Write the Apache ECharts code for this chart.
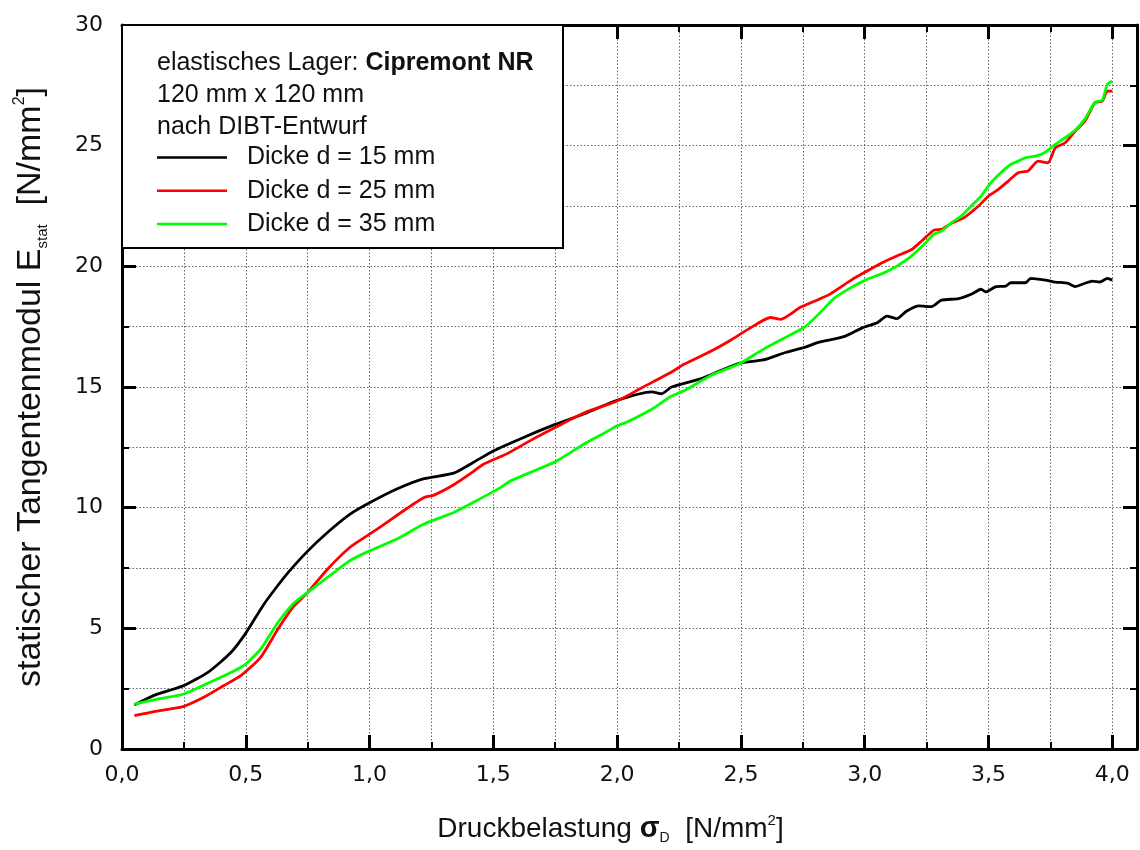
<!DOCTYPE html>
<html>
<head>
<meta charset="utf-8">
<script src="https://cdn.jsdelivr.net/npm/echarts@6/dist/echarts.min.js"></script>
<style>html,body{margin:0;padding:0;background:#fff}#c{width:1140px;height:850px}</style>
</head>
<body>
<div id="c"></div>
<script>
// ---- data ----
const seriesNames = ['Dicke d = 15 mm', 'Dicke d = 25 mm', 'Dicke d = 35 mm'];
const xTickLabels = ['0,0','0,5','1,0','1,5','2,0','2,5','3,0','3,5','4,0'];
const yTickLabels = ['0','5','10','15','20','25','30'];
const headerLines = ['elastisches Lager: ', 'Cipremont NR', '120 mm x 120 mm', 'nach DIBT-Entwurf'];

const x15 = [0.05,0.127,0.25,0.35,0.44,0.5,0.57,0.62,0.67,0.75,0.83,0.92,1.0,1.11,1.22,1.34,1.42,1.5,1.62,1.75,1.87,2.0,2.14,2.18,2.22,2.34,2.41,2.5,2.59,2.68,2.76,2.81,2.92,2.99,3.05,3.09,3.13,3.17,3.22,3.27,3.31,3.38,3.43,3.47,3.49,3.53,3.57,3.59,3.65,3.67,3.73,3.77,3.82,3.85,3.89,3.92,3.95,3.98,4.0];
const y15 = [1.82,2.21,2.63,3.2,4.0,4.8,5.95,6.65,7.3,8.2,8.97,9.72,10.2,10.77,11.2,11.43,11.88,12.35,12.9,13.45,13.9,14.45,14.8,14.72,15.0,15.35,15.65,16.0,16.12,16.43,16.65,16.84,17.1,17.45,17.66,17.94,17.83,18.15,18.36,18.33,18.6,18.66,18.84,19.05,18.94,19.16,19.18,19.32,19.32,19.5,19.43,19.35,19.3,19.16,19.3,19.39,19.35,19.5,19.43];

const x25 = [0.05,0.13,0.25,0.33,0.41,0.48,0.56,0.63,0.69,0.75,0.83,0.92,1.0,1.07,1.13,1.22,1.26,1.34,1.41,1.46,1.53,1.56,1.66,1.75,1.87,2.0,2.1,2.22,2.27,2.38,2.46,2.54,2.62,2.66,2.74,2.82,2.86,2.95,3.01,3.07,3.13,3.19,3.23,3.28,3.31,3.35,3.4,3.46,3.5,3.54,3.58,3.62,3.66,3.7,3.74,3.77,3.81,3.85,3.89,3.93,3.96,3.98,4.0];
const y25 = [1.38,1.55,1.77,2.14,2.62,3.04,3.8,4.97,5.87,6.49,7.45,8.35,8.9,9.39,9.82,10.42,10.52,10.95,11.43,11.8,12.12,12.26,12.84,13.32,13.94,14.42,14.97,15.62,15.94,16.49,16.95,17.46,17.88,17.8,18.3,18.66,18.85,19.46,19.81,20.15,20.43,20.7,21.05,21.5,21.53,21.78,22.01,22.5,22.91,23.19,23.53,23.88,23.95,24.36,24.29,24.91,25.12,25.6,26.02,26.78,26.85,27.26,27.26];

const x35 = [0.05,0.13,0.25,0.34,0.44,0.5,0.56,0.63,0.69,0.75,0.83,0.92,1.0,1.11,1.22,1.34,1.42,1.53,1.57,1.68,1.75,1.87,1.95,2.0,2.04,2.14,2.22,2.27,2.38,2.49,2.59,2.68,2.76,2.82,2.88,2.95,3.01,3.08,3.13,3.19,3.24,3.28,3.31,3.35,3.39,3.43,3.47,3.51,3.55,3.59,3.62,3.65,3.69,3.73,3.77,3.81,3.85,3.89,3.93,3.96,3.98,4.0];
const y35 = [1.86,2.04,2.28,2.69,3.17,3.52,4.14,5.24,6.0,6.49,7.11,7.8,8.21,8.7,9.32,9.8,10.22,10.84,11.11,11.59,11.9,12.66,13.1,13.39,13.55,14.08,14.63,14.84,15.49,15.94,16.56,17.05,17.5,18.08,18.7,19.15,19.46,19.74,20.01,20.43,20.91,21.33,21.46,21.8,22.08,22.5,22.91,23.47,23.88,24.22,24.36,24.5,24.57,24.73,25.05,25.33,25.64,26.11,26.8,26.89,27.54,27.67];

const colors = ['#000000', '#ff0000', '#00ff00'];

// ---- build ----
const zip = (xs, ys) => xs.map((x, i) => [x, ys[i]]);
const FONT = 'Liberation Sans';
const TICKFONT = 'DejaVu Sans';
const xLabelFmt = v => { const i = Math.round(v / 0.5); return Math.abs(v - i * 0.5) < 1e-6 ? (xTickLabels[i] || '') : ''; };
const yLabelFmt = v => { const i = Math.round(v / 5); return Math.abs(v - i * 5) < 1e-6 ? (yTickLabels[i] || '') : ''; };

function xAx(pos, interval, tickLen, tickW, withLabel, withLine, withSplit) {
  return {
    type: 'value', position: pos, min: 0, max: 4.1, interval: interval,
    axisLine: { show: withLine, onZero: false, lineStyle: { color: '#000', width: 3 } },
    axisTick: { show: true, inside: true, length: tickLen, lineStyle: { color: '#000', width: tickW } },
    axisLabel: { show: withLabel, formatter: xLabelFmt, showMaxLabel: false, margin: 15,
      fontFamily: TICKFONT, fontSize: 22, color: '#111' },
    splitLine: { show: withSplit, lineStyle: { type: [1.5, 2], color: '#666', width: 1 } }
  };
}
function yAx(pos, interval, tickLen, tickW, withLabel, withLine, withSplit) {
  return {
    type: 'value', position: pos, min: 0, max: 30, interval: interval,
    axisLine: { show: withLine, onZero: false, lineStyle: { color: '#000', width: 3 } },
    axisTick: { show: true, inside: true, length: tickLen, lineStyle: { color: '#000', width: tickW } },
    axisLabel: { show: withLabel, formatter: yLabelFmt, margin: 19,
      fontFamily: TICKFONT, fontSize: 22, color: '#111' },
    splitLine: { show: withSplit, lineStyle: { type: [1.5, 2], color: '#666', width: 1 } }
  };
}

const xAxes = [
  xAx('bottom', 0.25, 7, 2, true, true, true),
  xAx('bottom', 0.5, 14, 3, false, false, false),
  xAx('top', 0.25, 7, 2, false, true, false),
  xAx('top', 0.5, 14, 3, false, false, false)
];
xAxes[0].name = 'Druckbelastung {b|σ}{sub|D}  [N/mm{sup|2}]';
xAxes[0].nameLocation = 'middle';
xAxes[0].nameGap = 64;
xAxes[0].nameTextStyle = {
  fontFamily: FONT, fontSize: 28, color: '#111', padding: [0, 38, 0, 0], lineHeight: 32,
  rich: {
    b: { fontFamily: FONT, fontSize: 29, fontWeight: 'bold', color: '#111', lineHeight: 32 },
    sub: { fontFamily: FONT, fontSize: 14, color: '#111', verticalAlign: 'bottom', lineHeight: 14 },
    sup: { fontFamily: FONT, fontSize: 15, color: '#111', verticalAlign: 'top', lineHeight: 14 }
  }
};

const yAxes = [
  yAx('left', 2.5, 7, 2, true, true, true),
  yAx('left', 5, 14, 3, false, false, false),
  yAx('right', 2.5, 7, 2, false, true, false),
  yAx('right', 5, 14, 3, false, false, false)
];
yAxes[0].name = 'statischer Tangentenmodul E{sub|stat}  [N/mm{sup|2}]';
yAxes[0].nameLocation = 'middle';
yAxes[0].nameGap = 72;
yAxes[0].nameTextStyle = {
  fontFamily: FONT, fontSize: 34, color: '#111', lineHeight: 38,
  rich: {
    sub: { fontFamily: FONT, fontSize: 15, color: '#111', verticalAlign: 'bottom', lineHeight: 16 },
    sup: { fontFamily: FONT, fontSize: 16, color: '#111', verticalAlign: 'top', lineHeight: 16 }
  }
};

const dataSets = [zip(x15, y15), zip(x25, y25), zip(x35, y35)];
const series = dataSets.map((d, i) => ({
  name: seriesNames[i], type: 'line', data: d, xAxisIndex: 0, yAxisIndex: 0,
  showSymbol: false, symbol: 'none', smooth: 0.2, z: 3,
  lineStyle: { color: colors[i], width: 2.8 }, itemStyle: { color: colors[i] }
}));

const option = {
  animation: false,
  backgroundColor: '#fff',
  color: colors,
  grid: { left: 122, right: 3, top: 25, bottom: 100, containLabel: false },
  xAxis: xAxes,
  yAxis: yAxes,
  legend: {
    data: seriesNames, orient: 'vertical', left: 157, top: 145, z: 20, padding: 0,
    icon: 'rect', itemWidth: 70, itemHeight: 2.5, itemGap: 8.3,
    textStyle: { fontFamily: FONT, fontSize: 25, color: '#111', lineHeight: 24, padding: [0, 0, 0, 15] }
  },
  graphic: [
    { type: 'rect', z: 10, shape: { x: 122, y: 25, width: 441, height: 223 },
      style: { fill: '#fff', stroke: '#000', lineWidth: 2 } },
    { type: 'text', z: 11, left: 157, top: 50,
      style: { text: headerLines[0] + '{b|' + headerLines[1] + '}', fontFamily: FONT, fontSize: 25, fill: '#111', lineHeight: 26,
        rich: { b: { fontFamily: FONT, fontSize: 25, fontWeight: 'bold', fill: '#111', lineHeight: 26 } } } },
    { type: 'text', z: 11, left: 157, top: 82,
      style: { text: headerLines[2], fontFamily: FONT, fontSize: 25, fill: '#111', lineHeight: 26 } },
    { type: 'text', z: 11, left: 157, top: 114.5,
      style: { text: headerLines[3], fontFamily: FONT, fontSize: 25, fill: '#111', lineHeight: 26 } }
  ],
  series: series
};

const chart = echarts.init(document.getElementById('c'), null, { renderer: 'canvas' });
chart.setOption(option);
</script>
</body>
</html>
